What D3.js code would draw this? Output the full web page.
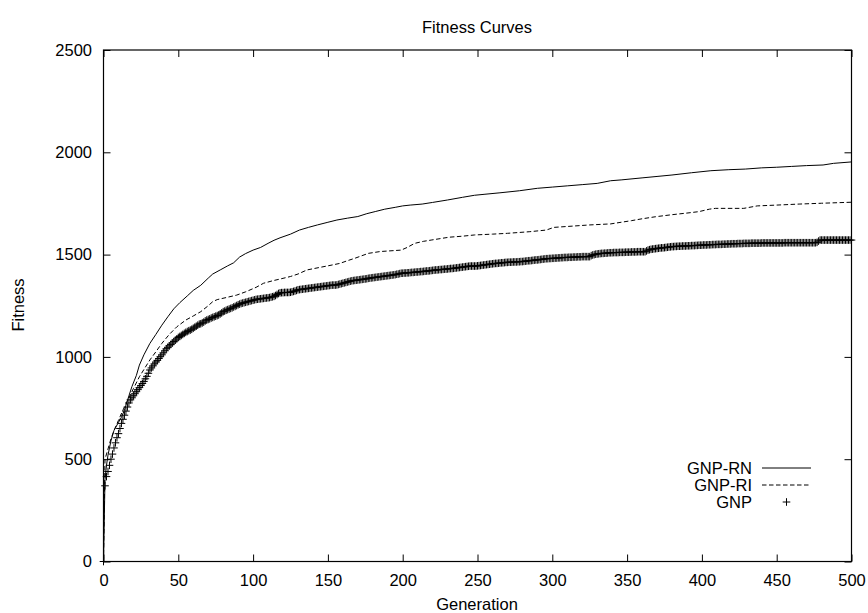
<!DOCTYPE html>
<html><head><meta charset="utf-8">
<script src="https://cdn.jsdelivr.net/npm/d3@7"></script>
<style>body{margin:0;background:#fff}svg{display:block}</style>
</head><body>
<script>
// ---- data ----
const xTicks = [0,50,100,150,200,250,300,350,400,450,500];
const yTicks = [0,500,1000,1500,2000,2500];
const seriesNames = ["GNP-RN","GNP-RI","GNP"];

// GNP-RN (solid line)
const rnGen = [0,1,2,3,5,7,10,12,14,17,19,22,24,27,31,35,39,43,47,51,56,60,65,70,73,78,83,87,91,95,100,105,110,114,118,125,131,137,143,150,156,163,170,176,182,188,195,200,205,213,220,230,240,248,255,265,278,290,300,310,320,330,339,346,360,370,380,393,406,418,429,440,450,460,470,481,488,500];
const rnVal = [0,400,470,520,590,640,680,705,740,810,855,910,960,1010,1066,1110,1155,1196,1235,1265,1298,1325,1350,1385,1405,1425,1445,1460,1488,1505,1522,1535,1555,1570,1582,1600,1620,1633,1645,1658,1669,1678,1686,1700,1711,1722,1731,1738,1742,1747,1755,1767,1780,1790,1795,1802,1812,1824,1830,1836,1842,1848,1861,1865,1875,1882,1889,1900,1910,1915,1918,1924,1927,1931,1935,1938,1946,1953];

// GNP-RI (dashed line)
const riGen = [0,1,3,5,7,10,13,16,20,24,28,31,35,39,44,49,55,60,65,70,73,76,82,89,95,102,107,113,120,125,130,136,145,150,158,163,168,177,185,199,203,208,214,219,225,231,240,248,260,270,285,296,301,315,325,339,353,360,369,380,390,398,405,409,428,437,450,465,480,500];
const riVal = [0,500,550,600,640,690,740,785,845,903,950,985,1025,1066,1110,1147,1180,1200,1221,1250,1270,1280,1290,1302,1318,1340,1360,1372,1384,1393,1405,1425,1438,1445,1457,1470,1482,1506,1515,1522,1535,1555,1565,1571,1578,1585,1590,1596,1600,1604,1612,1620,1633,1640,1645,1650,1666,1675,1685,1695,1703,1710,1722,1726,1726,1738,1742,1747,1751,1756];

// GNP (one "+" per generation, 0..500)
const gnpVal = [
0,370,415,440,470,500,525,555,580,605,
625,650,675,695,715,735,755,775,790,800,
810,820,830,840,850,860,870,880,893,905,
920,936,946,956,966,975,983,992,1001,1010,
1020,1030,1040,1047,1054,1061,1068,1075,1082,1088,
1095,1100,1105,1110,1115,1120,1124,1128,1131,1135,
1140,1145,1150,1155,1160,1162,1166,1170,1176,1180,
1183,1186,1190,1193,1196,1199,1202,1205,1210,1215,
1221,1224,1228,1231,1234,1237,1240,1244,1247,1251,
1255,1258,1261,1263,1265,1267,1269,1271,1273,1275,
1277,1279,1281,1282,1283,1284,1285,1286,1287,1288,
1289,1290,1292,1294,1296,1300,1305,1310,1313,1314,
1314,1315,1315,1315,1315,1316,1318,1320,1322,1325,
1328,1329,1330,1331,1332,1333,1334,1335,1336,1337,
1338,1339,1340,1341,1342,1343,1344,1345,1346,1347,
1348,1349,1350,1351,1351,1351,1352,1354,1356,1358,
1360,1362,1364,1366,1368,1370,1372,1373,1374,1375,
1376,1377,1378,1379,1380,1381,1382,1384,1385,1386,
1387,1388,1389,1390,1391,1392,1393,1394,1395,1396,
1397,1398,1399,1400,1401,1402,1404,1405,1407,1409,
1409,1410,1410,1411,1411,1412,1413,1413,1414,1415,
1415,1416,1417,1417,1418,1419,1420,1420,1421,1422,
1423,1424,1425,1425,1426,1427,1427,1428,1429,1429,
1430,1431,1432,1432,1433,1434,1435,1436,1437,1438,
1439,1440,1441,1442,1443,1444,1444,1444,1444,1444,
1445,1446,1447,1448,1449,1450,1451,1452,1453,1454,
1455,1456,1457,1457,1458,1459,1460,1460,1461,1462,
1462,1463,1463,1463,1464,1464,1464,1465,1465,1466,
1466,1467,1468,1469,1470,1470,1471,1472,1473,1474,
1474,1475,1476,1477,1478,1479,1480,1480,1481,1481,
1482,1482,1483,1483,1484,1484,1485,1485,1486,1486,
1486,1487,1487,1487,1488,1488,1488,1489,1489,1489,
1490,1490,1490,1490,1490,1490,1495,1498,1500,1502,
1503,1504,1505,1506,1506,1507,1507,1508,1509,1509,
1509,1510,1510,1510,1510,1511,1511,1511,1511,1512,
1512,1512,1512,1513,1513,1513,1513,1514,1514,1514,
1514,1514,1514,1518,1522,1524,1526,1527,1528,1529,
1530,1531,1532,1533,1533,1534,1535,1536,1537,1538,
1539,1539,1540,1540,1541,1541,1541,1542,1542,1542,
1543,1543,1543,1544,1544,1544,1545,1545,1546,1546,
1546,1547,1547,1547,1548,1548,1548,1549,1549,1549,
1550,1550,1550,1550,1551,1551,1551,1552,1552,1552,
1553,1553,1553,1553,1554,1554,1554,1554,1555,1555,
1555,1555,1555,1556,1556,1556,1556,1556,1556,1556,
1557,1557,1557,1557,1557,1557,1557,1557,1557,1557,
1557,1557,1557,1557,1557,1558,1558,1558,1558,1558,
1558,1558,1558,1558,1558,1558,1558,1558,1558,1558,
1558,1558,1558,1558,1558,1558,1558,1560,1566,1571,
1571,1571,1571,1571,1571,1571,1571,1571,1571,1571,
1571,1571,1571,1571,1571,1571,1571,1571,1571,1571,
1571];

// ---- chart ----
const W = 868, H = 613;
const FONT = "'Liberation Sans', Arial, Helvetica, sans-serif";
const FS = 16.5;
const svg = d3.select("body").append("svg").attr("width", W).attr("height", H)
  .style("font-family", FONT);

const x = d3.scaleLinear().domain([0, 500]).range([103.5, 851.5]);
const y = d3.scaleLinear().domain([0, 2500]).range([561.5, 50]);
const fmt = d3.format("d");

function styleAxis(g) {
  g.selectAll("text").attr("font-family", FONT).attr("font-size", FS).attr("fill", "#000");
  g.selectAll("line").attr("stroke", "#000").attr("stroke-width", 1);
  g.select(".domain").remove();
  g.attr("font-family", null).attr("font-size", null);
}

svg.append("g").attr("transform", `translate(0,${y(0)})`)
  .call(d3.axisBottom(x).tickValues(xTicks).tickFormat(fmt).tickSizeInner(-7).tickSizeOuter(0).tickPadding(12.5))
  .call(styleAxis);
svg.append("g").attr("transform", `translate(0,${y(2500)})`)
  .call(d3.axisTop(x).tickValues(xTicks).tickSizeInner(-7).tickSizeOuter(0).tickFormat(""))
  .call(styleAxis);
svg.append("g").attr("transform", `translate(${x(0)},0)`)
  .call(d3.axisLeft(y).tickValues(yTicks).tickFormat(fmt).tickSizeInner(-7).tickSizeOuter(0).tickPadding(11.5))
  .call(styleAxis);
svg.append("g").attr("transform", `translate(${x(500)},0)`)
  .call(d3.axisRight(y).tickValues(yTicks).tickSizeInner(-7).tickSizeOuter(0).tickFormat(""))
  .call(styleAxis);

// frame
svg.append("rect").attr("x", x(0)).attr("y", y(2500))
  .attr("width", x(500) - x(0)).attr("height", y(0) - y(2500))
  .attr("fill", "none").attr("stroke", "#000").attr("stroke-width", 1.2);

// titles
svg.append("text").attr("x", 477).attr("y", 27).attr("text-anchor", "middle")
  .attr("dominant-baseline", "central").attr("font-size", FS).text("Fitness Curves");
svg.append("text").attr("x", 477).attr("y", 604).attr("text-anchor", "middle")
  .attr("dominant-baseline", "central").attr("font-size", FS).text("Generation");
svg.append("text").attr("transform", "translate(18,305) rotate(-90)").attr("text-anchor", "middle")
  .attr("dominant-baseline", "central").attr("font-size", FS).text("Fitness");

// lines
const line = d3.line().x(d => x(d[0])).y(d => y(d[1]));
const rnData = d3.zip(rnGen, rnVal);
const riData = d3.zip(riGen, riVal);
svg.append("path").datum(rnData).attr("d", line)
  .attr("fill", "none").attr("stroke", "#000").attr("stroke-width", 1);
svg.append("path").datum(riData).attr("d", line)
  .attr("fill", "none").attr("stroke", "#000").attr("stroke-width", 1)
  .attr("stroke-dasharray", "4.5,2.5");

// GNP points
const P = 3.8;
const plusPath = (cx, cy) => `M${cx - P},${cy}H${cx + P}M${cx},${cy - P}V${cy + P}`;
svg.append("path")
  .attr("d", gnpVal.map((v, i) => plusPath(x(i), y(v))).join(""))
  .attr("fill", "none").attr("stroke", "#000").attr("stroke-width", 1);

// legend
const legY = [468, 485, 502];
const leg = svg.append("g");
seriesNames.forEach((n, i) => {
  leg.append("text").attr("x", 752).attr("y", legY[i]).attr("text-anchor", "end")
    .attr("dominant-baseline", "central").attr("font-size", FS).text(n);
});
leg.append("line").attr("x1", 762).attr("x2", 811).attr("y1", legY[0]).attr("y2", legY[0])
  .attr("stroke", "#000").attr("stroke-width", 1);
leg.append("line").attr("x1", 762).attr("x2", 811).attr("y1", legY[1]).attr("y2", legY[1])
  .attr("stroke", "#000").attr("stroke-width", 1).attr("stroke-dasharray", "4.5,2.5");
leg.append("path").attr("d", plusPath(786.5, legY[2]))
  .attr("stroke", "#000").attr("stroke-width", 1);
</script>
</body></html>
